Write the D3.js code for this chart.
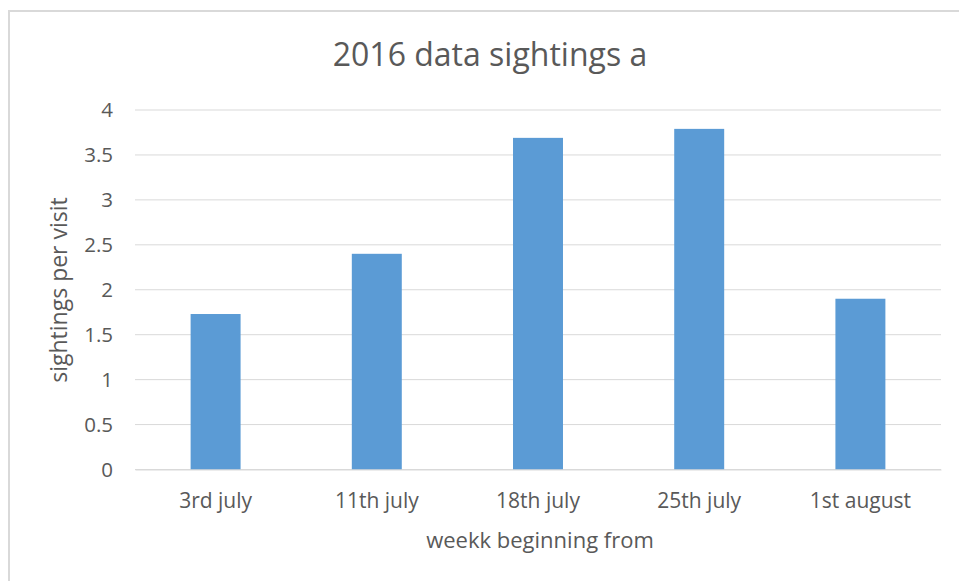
<!DOCTYPE html>
<html><head><meta charset="utf-8">
<script src="https://cdn.jsdelivr.net/npm/d3@7"></script>
<style>body{margin:0;background:#fff}svg{display:block}text{font-family:"Open Sans",sans-serif;fill:#595959}</style>
</head><body>
<svg id="c" width="959" height="581"></svg>
<script>
const categories = ["3rd july","11th july","18th july","25th july","1st august"];
const values = [1.73, 2.4, 3.69, 3.79, 1.9];
const yTicks = [0,0.5,1,1.5,2,2.5,3,3.5,4];
const title = "2016 data sightings a";
const xTitle = "weekk beginning from";
const yTitle = "sightings per visit";

const svg = d3.select("#c");
const m = {left:135, right:941, top:110, bottom:469.5};
svg.append("rect").attr("x",9).attr("y",11).attr("width",1000).attr("height",1000)
  .attr("fill","#fff").attr("stroke","#d9d9d9").attr("stroke-width",2);

const x = d3.scaleBand().domain(categories).range([m.left,m.right]).paddingInner(0.69).paddingOuter(0.345);
const y = d3.scaleLinear().domain([0,4]).range([m.bottom,m.top]);

svg.append("g").selectAll("line").data(yTicks).join("line")
  .attr("x1",m.left).attr("x2",m.right).attr("y1",d=>y(d)).attr("y2",d=>y(d))
  .attr("stroke","#d9d9d9").attr("stroke-width",1);

svg.append("g").selectAll("rect").data(values).join("rect")
  .attr("x",(d,i)=>x(categories[i])).attr("width",x.bandwidth())
  .attr("y",d=>y(d)).attr("height",d=>y(0)-y(d)).attr("fill","#5b9bd5");

const yAxis = svg.append("g").attr("transform",`translate(${m.left},0)`)
  .call(d3.axisLeft(y).tickValues(yTicks).tickSize(0).tickPadding(22).tickFormat(d3.format("")));
yAxis.select(".domain").remove();
yAxis.selectAll("text").attr("font-size",20.5).attr("font-family","'Open Sans',sans-serif").attr("fill","#595959");

const xAxis = svg.append("g").attr("transform",`translate(0,${m.bottom})`)
  .call(d3.axisBottom(x).tickSize(0).tickPadding(23.5));
xAxis.select(".domain").attr("stroke","#d9d9d9");
xAxis.selectAll("text").attr("font-size",21).attr("font-family","'Open Sans',sans-serif").attr("fill","#595959");

svg.append("text").attr("x",490).attr("y",66).attr("text-anchor","middle").attr("font-size",32).text(title);
svg.append("text").attr("x",540).attr("y",548).attr("text-anchor","middle").attr("font-size",22).text(xTitle);
svg.append("text").attr("transform","translate(67,290) rotate(-90)").attr("text-anchor","middle").attr("font-size",23).text(yTitle);
</script>
</body></html>
